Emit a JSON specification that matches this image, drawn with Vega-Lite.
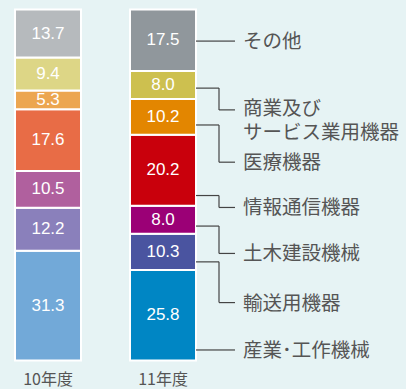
{
  "$schema": "https://vega.github.io/schema/vega-lite/v6.json",
  "autosize": "none",
  "width": 406,
  "height": 351,
  "padding": {"top": 9.5, "left": 0, "right": 0, "bottom": 28.5},
  "background": "#e6f3f4",
  "config": {"view": {"stroke": null}},
  "datasets": {
    "shares": [
      {"year": "10年度", "cat": "産業･工作機械", "v": 31.3, "rank": 1},
      {"year": "10年度", "cat": "輸送用機器", "v": 12.2, "rank": 2},
      {"year": "10年度", "cat": "土木建設機械", "v": 10.5, "rank": 3},
      {"year": "10年度", "cat": "情報通信機器", "v": 17.6, "rank": 4},
      {"year": "10年度", "cat": "医療機器", "v": 5.3, "rank": 5},
      {"year": "10年度", "cat": "商業及びサービス業用機器", "v": 9.4, "rank": 6},
      {"year": "10年度", "cat": "その他", "v": 13.7, "rank": 7},
      {"year": "11年度", "cat": "産業･工作機械", "v": 25.8, "rank": 1},
      {"year": "11年度", "cat": "輸送用機器", "v": 10.3, "rank": 2},
      {"year": "11年度", "cat": "土木建設機械", "v": 8.0, "rank": 3},
      {"year": "11年度", "cat": "情報通信機器", "v": 20.2, "rank": 4},
      {"year": "11年度", "cat": "医療機器", "v": 10.2, "rank": 5},
      {"year": "11年度", "cat": "商業及びサービス業用機器", "v": 8.0, "rank": 6},
      {"year": "11年度", "cat": "その他", "v": 17.5, "rank": 7}
    ],
    "leaders": [
      {"label": "その他", "a": 91.0, "l": 91.0, "t": 91.0},
      {"label": "商業及び\nサービス業用機器", "a": 77.6, "l": 71.4, "t": 71.8},
      {"label": "医療機器", "a": 67.1, "l": 56.5, "t": 56.5},
      {"label": "情報通信機器", "a": 47.0, "l": 43.6, "t": 43.6},
      {"label": "土木建設機械", "a": 38.3, "l": 30.5, "t": 30.5},
      {"label": "輸送用機器", "a": 28.1, "l": 16.5, "t": 16.5},
      {"label": "産業･工作機械", "a": 3.0, "l": 3.0, "t": 3.0}
    ]
  },
  "layer": [
    {
      "data": {"name": "shares"},
      "encoding": {
        "x": {
          "field": "year",
          "type": "nominal",
          "scale": {"domain": ["10年度", "11年度"], "paddingInner": 0.4261, "paddingOuter": 0.9783, "align": 0.0667, "round": false},
          "axis": {"title": null, "domain": false, "ticks": false, "labelAngle": 0, "labelFontSize": 16, "labelColor": "#555555", "labelFont": "Noto Sans CJK JP", "labelPadding": 11}
        }
      },
      "layer": [
        {
          "transform": [{"filter": "datum.year === '10年度'"}],
          "mark": {"type": "bar", "stroke": "white", "strokeWidth": 2},
          "encoding": {
            "y": {"field": "v", "type": "quantitative", "stack": "zero", "scale": {"domain": [0, 100], "nice": false}, "axis": null},
            "color": {
              "field": "cat", "type": "nominal", "legend": null,
              "scale": {
                "domain": ["産業･工作機械", "輸送用機器", "土木建設機械", "情報通信機器", "医療機器", "商業及びサービス業用機器", "その他"],
                "range": ["#72a9d8", "#8a80bb", "#b0609e", "#e86c46", "#eca650", "#ddd686", "#b6babd"]
              }
            },
            "order": {"field": "rank", "type": "quantitative"}
          }
        },
        {
          "transform": [{"filter": "datum.year === '11年度'"}],
          "mark": {"type": "bar", "stroke": "white", "strokeWidth": 2},
          "encoding": {
            "y": {"field": "v", "type": "quantitative", "stack": "zero", "scale": {"domain": [0, 100], "nice": false}, "axis": null},
            "color": {
              "field": "cat", "type": "nominal", "legend": null,
              "scale": {
                "domain": ["産業･工作機械", "輸送用機器", "土木建設機械", "情報通信機器", "医療機器", "商業及びサービス業用機器", "その他"],
                "range": ["#0086c4", "#4a54a0", "#9b0076", "#c9000c", "#e38600", "#cdc04f", "#90979c"]
              }
            },
            "order": {"field": "rank", "type": "quantitative"}
          }
        },
        {
          "mark": {"type": "text", "color": "white", "fontSize": 17, "font": "Liberation Sans", "baseline": "middle", "align": "center"},
          "encoding": {
            "y": {"field": "v", "type": "quantitative", "stack": "zero", "bandPosition": 0.5, "scale": {"domain": [0, 100], "nice": false}, "axis": null},
            "detail": {"field": "cat"},
            "order": {"field": "rank", "type": "quantitative"},
            "text": {"field": "v", "type": "quantitative", "format": ".1f"}
          }
        }
      ],
      "resolve": {"scale": {"color": "independent"}}
    },
    {
      "data": {"name": "leaders"},
      "layer": [
        {
          "mark": {"type": "rule", "color": "#444444", "strokeWidth": 1.2},
          "encoding": {
            "x": {"datum": 196, "type": "quantitative", "scale": {"domain": [0, 406], "nice": false, "zero": false}, "axis": null},
            "x2": {"datum": 219},
            "y": {"field": "a", "type": "quantitative", "scale": {"domain": [0, 100], "nice": false}, "axis": null}
          }
        },
        {
          "mark": {"type": "rule", "color": "#444444", "strokeWidth": 1.2},
          "encoding": {
            "x": {"datum": 219, "type": "quantitative", "scale": {"domain": [0, 406], "nice": false, "zero": false}, "axis": null},
            "y": {"field": "a", "type": "quantitative", "scale": {"domain": [0, 100], "nice": false}, "axis": null},
            "y2": {"field": "l"}
          }
        },
        {
          "mark": {"type": "rule", "color": "#444444", "strokeWidth": 1.2},
          "encoding": {
            "x": {"datum": 219, "type": "quantitative", "scale": {"domain": [0, 406], "nice": false, "zero": false}, "axis": null},
            "x2": {"datum": 235},
            "y": {"field": "l", "type": "quantitative", "scale": {"domain": [0, 100], "nice": false}, "axis": null}
          }
        },
        {
          "mark": {"type": "text", "align": "left", "baseline": "middle", "dy": 1, "fontSize": 19.5, "font": "Noto Sans CJK JP", "color": "#555555", "lineBreak": "\n", "lineHeight": 24},
          "encoding": {
            "x": {"datum": 243, "type": "quantitative", "scale": {"domain": [0, 406], "nice": false, "zero": false}, "axis": null},
            "y": {"field": "t", "type": "quantitative", "scale": {"domain": [0, 100], "nice": false}, "axis": null},
            "text": {"field": "label", "type": "nominal"}
          }
        }
      ]
    }
  ],
  "resolve": {"scale": {"x": "independent"}}
}
